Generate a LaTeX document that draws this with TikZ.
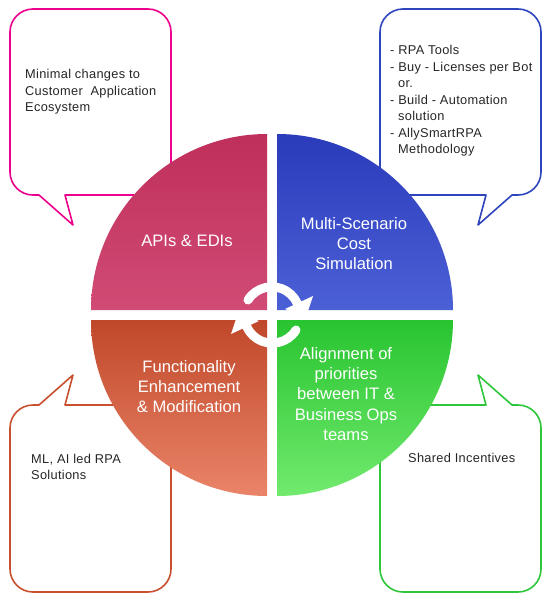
\documentclass[tikz,border=0pt]{standalone}
\usepackage{fontspec}
\setmainfont{Liberation Sans}
\newfontfamily\calloutfont[LetterSpace=2.4]{Liberation Sans}
\definecolor{cpink}{HTML}{EC008C}
\definecolor{cblue}{HTML}{2F45BE}
\definecolor{cred}{HTML}{C8502E}
\definecolor{cgreen}{HTML}{2EC63A}
\definecolor{tlA}{HTML}{BF2F5B}
\definecolor{tlB}{HTML}{D04B75}
\definecolor{trA}{HTML}{2A3BBB}
\definecolor{trB}{HTML}{4C60D6}
\definecolor{blA}{HTML}{C0482A}
\definecolor{blB}{HTML}{EA8468}
\definecolor{brA}{HTML}{28C430}
\definecolor{brB}{HTML}{72EA6E}
\begin{document}
\begin{tikzpicture}[x=1pt,y=-1pt,
  bubble/.style={line width=1.6pt,fill=white,line join=round},
  callout/.style={anchor=west,inner sep=0pt,font=\calloutfont\fontsize{12.8}{16.5}\selectfont,text=black!85,align=left},
  quadlabel/.style={inner sep=0pt,text=white,font=\fontsize{16.6}{20.3}\selectfont,align=center},
  ringarc/.style={draw=white,line width=9pt,line cap=round}]
\useasboundingbox (0,0) rectangle (550,600);
\fill[white] (0,0) rectangle (550,600);
% callouts
\draw[bubble,draw=cpink] (33,9) -- (148,9) arc[start angle=-90,end angle=0,radius=23] -- (171,172) arc[start angle=0,end angle=90,radius=23] -- (65,195) -- (73,225) -- (39,195) -- (33,195) arc[start angle=90,end angle=180,radius=23] -- (10,32) arc[start angle=180,end angle=270,radius=23] -- cycle;
\draw[bubble,draw=cblue] (403,9) -- (518,9) arc[start angle=-90,end angle=0,radius=23] -- (541,172) arc[start angle=0,end angle=90,radius=23] -- (512,195) -- (478,225) -- (486,195) -- (403,195) arc[start angle=90,end angle=180,radius=23] -- (380,32) arc[start angle=180,end angle=270,radius=23] -- cycle;
\draw[bubble,draw=cred] (33,405) -- (39,405) -- (73,375) -- (65,405) -- (148,405) arc[start angle=-90,end angle=0,radius=23] -- (171,569) arc[start angle=0,end angle=90,radius=23] -- (33,592) arc[start angle=90,end angle=180,radius=23] -- (10,428) arc[start angle=180,end angle=270,radius=23] -- cycle;
\draw[bubble,draw=cgreen] (403,405) -- (486,405) -- (478,375) -- (512,405) -- (518,405) arc[start angle=-90,end angle=0,radius=23] -- (541,569) arc[start angle=0,end angle=90,radius=23] -- (403,592) arc[start angle=90,end angle=180,radius=23] -- (380,428) arc[start angle=180,end angle=270,radius=23] -- cycle;
% quadrants
\shade[top color=tlA,bottom color=tlB] (267,310) -- (91,310) arc[start angle=180,end angle=270,radius=176] -- cycle;
\shade[top color=trA,bottom color=trB] (277,310) -- (277,134) arc[start angle=-90,end angle=0,radius=176] -- cycle;
\shade[top color=blA,bottom color=blB] (267,320) -- (267,496) arc[start angle=90,end angle=180,radius=176] -- cycle;
\shade[top color=brA,bottom color=brB] (277,320) -- (453,320) arc[start angle=0,end angle=90,radius=176] -- cycle;
% cycle arrows
\draw[ringarc] (248,300) arc[start angle=-148,end angle=-14,radius=28];
\fill[white] (313,296) -- (285,309) -- (306,317) -- cycle;
\draw[ringarc] (296,330) arc[start angle=32,end angle=166,radius=28];
\fill[white] (231,334) -- (259,321) -- (238,313) -- cycle;
% labels
\node[quadlabel] (apis) at (187,241) {APIs \& EDIs};
\node[quadlabel] (multi) at (354,243.5) {Multi-Scenario\\Cost\\Simulation};
\node[quadlabel] (func) at (189,386.5) {Functionality\\Enhancement\\\& Modification};
\node[quadlabel] (align) at (346,394) {Alignment of\\priorities\\between IT \&\\Business Ops\\teams};
\node[callout] (pinktext) at (25,92) {Minimal changes to\\Customer\ \ Application\\Ecosystem};
\node[callout] (bluetext) at (390,101) {- RPA Tools\\- Buy - Licenses per Bot\\\hspace*{8pt}or.\\- Build - Automation\\\hspace*{8pt}solution\\- AllySmartRPA\\\hspace*{8pt}Methodology};
\node[callout] (redtext) at (31,467) {ML, AI led RPA\\Solutions};
\node[callout] (greentext) at (408,458) {Shared Incentives};
\end{tikzpicture}
\end{document}
